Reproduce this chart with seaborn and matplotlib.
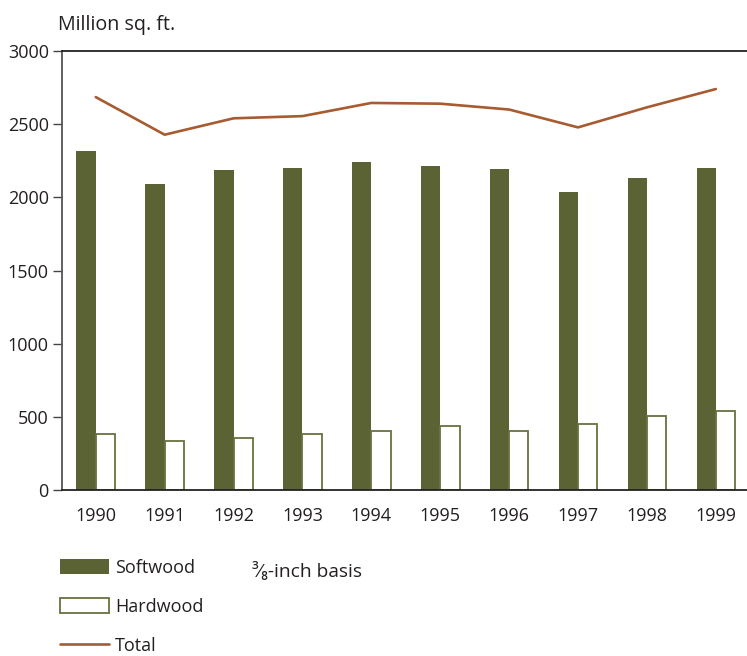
import matplotlib
matplotlib.use("Agg")
import matplotlib.pyplot as plt
from matplotlib.patches import Patch
from matplotlib.lines import Line2D
import pandas as pd
import seaborn as sns

# Structural panel production, million sq. ft. (3/8-inch basis)
years = ["1990", "1991", "1992", "1993", "1994", "1995", "1996", "1997", "1998", "1999"]
softwood = [2319, 2089, 2187, 2201, 2242, 2212, 2196, 2035, 2135, 2203]
hardwood = [380, 337, 355, 384, 403, 439, 401, 448, 503, 541]
total = [2685, 2428, 2540, 2555, 2645, 2640, 2600, 2478, 2615, 2740]
y_ticks = [0, 500, 1000, 1500, 2000, 2500, 3000]

OLIVE = "#5b6334"
OLIVE_EDGE = "#6b7140"
BROWN = "#a65b30"
TEXT = "#231f20"

sns.set_theme(style="white")
plt.rcParams["font.family"] = ["Open Sans", "DejaVu Sans"]
plt.rcParams["text.color"] = TEXT
plt.rcParams["xtick.color"] = TEXT
plt.rcParams["ytick.color"] = TEXT

W, H = 747, 656
fig = plt.figure(figsize=(W / 100, H / 100), dpi=100)
ax = fig.add_axes([62 / W, 1 - 490 / H, (747 - 62) / W, (490 - 51) / H])

df = pd.DataFrame({
    "year": years * 2,
    "kind": ["Softwood"] * len(years) + ["Hardwood"] * len(years),
    "value": softwood + hardwood,
})

sns.barplot(data=df, x="year", y="value", hue="kind",
            hue_order=["Softwood", "Hardwood"],
            palette={"Softwood": OLIVE, "Hardwood": "white"},
            width=0.56, legend=False, ax=ax, saturation=1, linewidth=0)

for patch in ax.containers[1]:
    patch.set_edgecolor(OLIVE_EDGE)
    patch.set_linewidth(1.3)

sns.lineplot(x=list(range(len(years))), y=total, color=BROWN, linewidth=1.9, ax=ax)

ax.set_xlim(-0.49, 9.453)
ax.set_ylim(0, 3000)
ax.set_yticks(y_ticks)
ax.set_xlabel("")
ax.set_ylabel("")
ax.tick_params(axis="y", which="major", left=True, length=6.5, width=1.0,
               pad=3, labelsize=13, color="#444444")
ax.tick_params(axis="x", which="major", bottom=False, length=0, pad=12, labelsize=13)

for side in ["top", "bottom", "left"]:
    ax.spines[side].set_visible(True)
ax.spines["right"].set_visible(False)
ax.spines["top"].set_color("#222222")
ax.spines["top"].set_linewidth(1.3)
ax.spines["bottom"].set_color("#222222")
ax.spines["bottom"].set_linewidth(1.3)
ax.spines["left"].set_color("#555555")
ax.spines["left"].set_linewidth(1.3)

fig.text(58 / W, 1 - 30 / H, "Million sq. ft.", fontsize=14.2, ha="left", va="baseline")
fig.text(252 / W, 1 - 577 / H, "\u00b3\u2044\u2088-inch basis", fontsize=13.8,
         ha="left", va="baseline")

handles = [
    Patch(facecolor=OLIVE, edgecolor=OLIVE, linewidth=0),
    Patch(facecolor="white", edgecolor=OLIVE_EDGE, linewidth=1.3),
    Line2D([0], [0], color=BROWN, linewidth=1.9),
]
fig.legend(handles, ["Softwood", "Hardwood", "Total"],
           loc="upper left", bbox_to_anchor=(60 / W, 1 - 559 / H),
           frameon=False, fontsize=13, handlelength=2.7, handleheight=0.9,
           handletextpad=0.35, labelspacing=1.15, borderpad=0, borderaxespad=0)

fig.savefig("out.png", dpi=100, facecolor="white")
